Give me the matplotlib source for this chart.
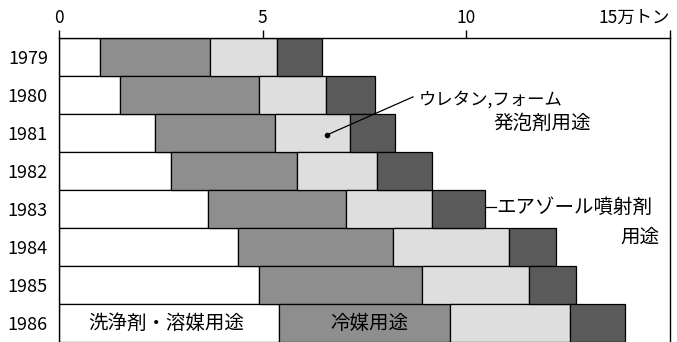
import numpy as np
import matplotlib
matplotlib.use('Agg')
import matplotlib.pyplot as plt

plt.rcParams['font.family'] = ['Noto Sans CJK JP', 'DejaVu Sans']

# datos (万トン)
years = ['1979', '1980', '1981', '1982', '1983', '1984', '1985', '1986']
senjo = [1.0, 1.5, 2.35, 2.75, 3.65, 4.4, 4.9, 5.4]     # 洗浄剤・溶媒用途
reibai = [2.7, 3.4, 2.95, 3.1, 3.4, 3.8, 4.0, 4.2]     # 冷媒用途
uretan = [1.65, 1.65, 1.85, 1.95, 2.1, 2.85, 2.65, 2.95]  # ウレタン,フォーム発泡剤用途
aerosol = [1.1, 1.2, 1.1, 1.35, 1.3, 1.15, 1.15, 1.35]  # エアゾール噴射剤用途

series = [senjo, reibai, uretan, aerosol]
colores = ['white', '#8e8e8e', '#dedede', '#5a5a5a']

fig = plt.figure(figsize=(6.77, 3.42), dpi=100)
ax = fig.add_axes([59/677, 0.0, (670-59)/677, 1 - 38/342])

y = np.arange(len(years))
left = np.zeros(len(years))
for vals, c in zip(series, colores):
    ax.barh(y, vals, left=left, height=1.0, color=c, edgecolor='black', linewidth=0.9)
    left = left + np.array(vals)

ax.set_xlim(0, 15)
ax.set_ylim(len(years) - 0.5, -0.5)

ax.xaxis.tick_top()
ax.set_xticks([0, 5, 10, 15])
ax.set_xticklabels(['0', '5', '10', '15万トン'], fontsize=12.5)
ax.get_xticklabels()[-1].set_ha('right')
ax.get_xticklabels()[-1].set_x(15.1)
ax.tick_params(axis='x', direction='out', length=6, width=1, pad=2)

ax.set_yticks(y)
ax.set_yticklabels(years, fontsize=13)
ax.tick_params(axis='y', length=0, pad=8)

ax.spines['bottom'].set_visible(False)
for s in ['top', 'left', 'right']:
    ax.spines[s].set_linewidth(1.0)

# etiquetas
ax.text(2.64, 7.02, '洗浄剤・溶媒用途', fontsize=14, ha='center', va='center')
ax.text(7.63, 7.02, '冷媒用途', fontsize=14, ha='center', va='center')

ax.plot([6.58, 8.69], [2.05, 1.05], color='black', lw=0.9)
ax.plot([6.58], [2.05], 'o', color='black', ms=3)
ax.text(8.84, 1.13, 'ウレタン,フォーム', fontsize=12.5, ha='left', va='center')
ax.text(10.67, 1.76, '発泡剤用途', fontsize=14, ha='left', va='center')

ax.plot([10.49, 10.74], [3.95, 3.95], color='black', lw=0.9)
ax.text(10.74, 3.97, 'エアゾール噴射剤', fontsize=14, ha='left', va='center')
ax.text(14.75, 4.75, '用途', fontsize=14, ha='right', va='center')

fig.savefig('out.png', dpi=100)
